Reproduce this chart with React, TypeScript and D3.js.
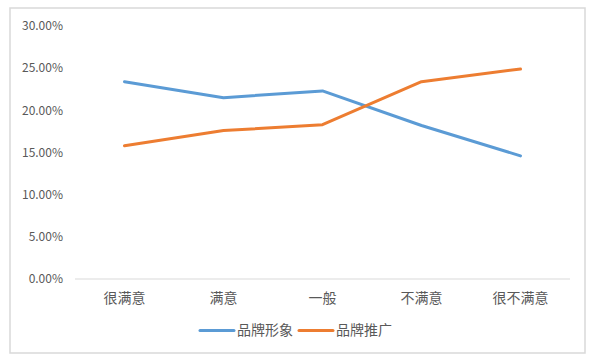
import React from "react";
import * as d3 from "d3";

const categories = ["很满意", "满意", "一般", "不满意", "很不满意"];
const seriesNames = ["品牌形象", "品牌推广"];
const imageValues = [0.234, 0.215, 0.223, 0.182, 0.146];
const promoValues = [0.158, 0.176, 0.183, 0.234, 0.249];
const yTicks = [0, 0.05, 0.1, 0.15, 0.2, 0.25, 0.3];
const colors = ["#5B9BD5", "#ED7D31"];

export default function App() {
  const W = 605, H = 360;
  const x = d3.scaleBand<string>().domain(categories).range([75, 570]);
  const y = d3.scaleLinear().domain([0, 0.3]).range([279, 26]);
  const line = d3
    .line<number>()
    .x((_, i) => (x(categories[i]) as number) + x.bandwidth() / 2)
    .y((d) => y(d));
  const series = [imageValues, promoValues];
  const font = "'Segoe UI', 'Noto Sans CJK SC', 'Open Sans', sans-serif";
  const cjk = "'Noto Sans CJK SC', sans-serif";
  const legendX = [200, 299];
  return (
    <svg width={W} height={H} style={{ position: "absolute", left: 0, top: 0 }}>
      <rect x={0} y={0} width={W} height={H} fill="#fff" />
      <rect x={10} y={8} width={575} height={345} fill="#fff" stroke="#D9D9D9" strokeWidth={1.5} />
      {yTicks.map((t) => (
        <text key={t} x={63} y={y(t)} dy="0.35em" textAnchor="end" fontSize={12} fill="#595959" fontFamily={font}>
          {d3.format(".2%")(t)}
        </text>
      ))}
      <line x1={75} x2={570} y1={y(0)} y2={y(0)} stroke="#D9D9D9" strokeWidth={1} />
      {categories.map((c) => (
        <text key={c} x={(x(c) as number) + x.bandwidth() / 2} y={298} dy="0.35em" textAnchor="middle" fontSize={14} fill="#595959" fontFamily={cjk}>
          {c}
        </text>
      ))}
      {series.map((s, i) => (
        <path key={i} d={line(s) as string} fill="none" stroke={colors[i]} strokeWidth={3} strokeLinejoin="round" strokeLinecap="round" />
      ))}
      {seriesNames.map((n, i) => (
        <g key={n}>
          <line x1={legendX[i]} x2={legendX[i] + 34} y1={330.5} y2={330.5} stroke={colors[i]} strokeWidth={3} strokeLinecap="round" />
          <text x={legendX[i] + 37} y={330.5} dy="0.35em" fontSize={14} fill="#595959" fontFamily={cjk}>
            {n}
          </text>
        </g>
      ))}
    </svg>
  );
}
